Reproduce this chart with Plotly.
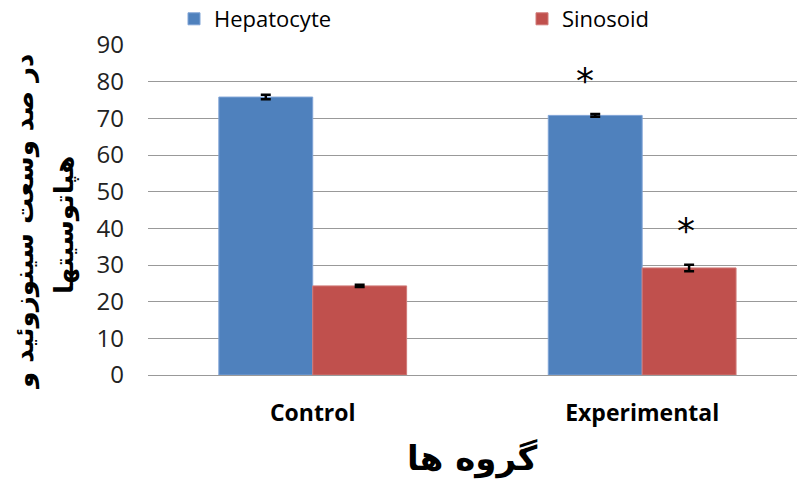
import plotly.graph_objects as go

categories = ["Control", "Experimental"]
hepatocyte = [75.8, 70.8]
hepatocyte_err = [0.6, 0.4]
sinosoid = [24.3, 29.2]
sinosoid_err = [0.3, 0.9]
star_hep = [None, 80.3]
star_sin = [None, 39.5]

fig = go.Figure()
fig.add_trace(go.Bar(
    x=categories, y=hepatocyte, name="Hepatocyte", legend="legend",
    marker=dict(color="#4F81BD", line=dict(color="#7FA3D6", width=1)),
    error_y=dict(type="data", array=hepatocyte_err, color="black", thickness=2.5, width=5),
))
fig.add_trace(go.Bar(
    x=categories, y=sinosoid, name="Sinosoid", legend="legend2",
    marker=dict(color="#C0504D", line=dict(color="#D07A78", width=1)),
    error_y=dict(type="data", array=sinosoid_err, color="black", thickness=2.5, width=5),
))

for i, c in enumerate(categories):
    if star_hep[i] is not None:
        fig.add_annotation(x=c, y=star_hep[i], text="*", showarrow=False,
                           xshift=-57, font=dict(size=36, color="black", family="DejaVu Sans"))
    if star_sin[i] is not None:
        fig.add_annotation(x=c, y=star_sin[i], text="*", showarrow=False,
                           xshift=44, font=dict(size=36, color="black", family="DejaVu Sans"))

# y-axis title (two lines)
fig.add_annotation(
    xref="paper", yref="paper", x=(24 - 148) / 649, y=(375 - 222) / 330,
    text="<b>در صد وسعت سینوزوئید و</b>", textangle=-90,
    showarrow=False, xanchor="center", yanchor="middle",
    font=dict(size=26, color="black", family="DejaVu Sans"))
fig.add_annotation(
    xref="paper", yref="paper", x=(64 - 148) / 649, y=(375 - 225) / 330,
    text="<b>هپاتوسیتها</b>", textangle=-90,
    showarrow=False, xanchor="center", yanchor="middle",
    font=dict(size=26, color="black", family="DejaVu Sans"))
# x-axis title
fig.add_annotation(
    xref="paper", yref="paper", x=0.5, y=-(458 - 375) / 330,
    text="<b>گروه ها</b>", showarrow=False, xanchor="center", yanchor="middle",
    font=dict(size=34, color="black", family="DejaVu Sans"))

legend_common = dict(orientation="h", xref="container", yref="container",
                     xanchor="left", y=1 - 19 / 481, yanchor="middle",
                     font=dict(size=22, family="Open Sans", color="black"),
                     bgcolor="rgba(0,0,0,0)")

fig.update_layout(
    width=800, height=481,
    margin=dict(l=148, r=3, t=45, b=106, autoexpand=False),
    paper_bgcolor="white", plot_bgcolor="white",
    barmode="group", bargap=0.43, bargroupgap=0,
    font=dict(family="Open Sans", color="black"),
    showlegend=True,
    legend=dict(x=174 / 800, **legend_common),
    legend2=dict(x=522 / 800, **legend_common),
    xaxis=dict(
        range=[-0.5, 1.47], automargin=False,
        tickfont=dict(size=23, family="Open Sans", color="black"),
        tickprefix="<b>", ticksuffix="</b>",
        showline=False, ticks="", ticklabelstandoff=22,
    ),
    yaxis=dict(
        range=[0, 90], dtick=10, automargin=False,
        tickfont=dict(size=24, family="Open Sans", color="#222"),
        showgrid=True, gridcolor="#999999", gridwidth=1.3,
        zeroline=True, zerolinecolor="#999999", zerolinewidth=1.3,
        showline=False, ticks="", ticklabelstandoff=23,
    ),
)

fig.write_html("out.html", post_script="document.body.style.margin='0';",
               config={"displayModeBar": False})
